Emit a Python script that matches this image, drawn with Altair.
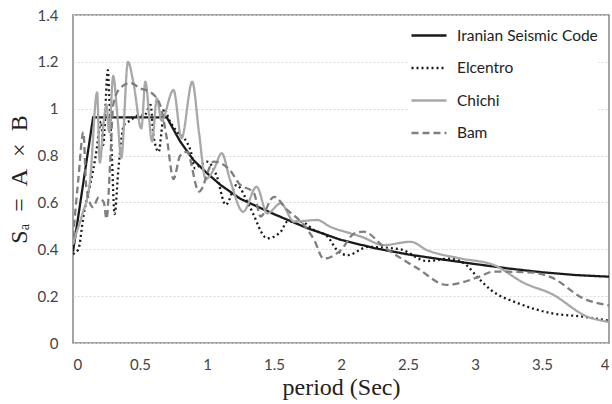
import altair as alt
import pandas as pd

# ---- data ----
series_names = ["Iranian Seismic Code", "Elcentro", "Chichi", "Bam"]

code_T = [0, 0.15, 0.7, 0.8, 0.9, 1.0, 1.1, 1.25, 1.5, 1.75, 2.0, 2.25, 2.5, 2.75, 3.0, 3.25, 3.5, 3.75, 4.0]
code_Sa = [0.39, 0.963, 0.963, 0.86, 0.78, 0.725, 0.675, 0.615, 0.55, 0.49, 0.44, 0.405, 0.378, 0.357, 0.337, 0.318, 0.302, 0.29, 0.283]

elc_T = [0, 0.04, 0.08, 0.13, 0.17, 0.21, 0.225, 0.26, 0.27, 0.29, 0.31, 0.34, 0.38, 0.43, 0.48, 0.53, 0.58, 0.60,
         0.64, 0.66, 0.68, 0.72, 0.78, 0.83, 0.88, 0.91, 0.95, 1.0, 1.07, 1.14, 1.22, 1.32, 1.45, 1.55, 1.6, 1.7,
         1.8, 1.9, 1.97, 2.05, 2.2, 2.44, 2.64, 2.82, 2.94, 3.02, 3.12, 3.32, 3.57, 3.81, 4.0]
elc_Sa = [0.38, 0.40, 0.55, 0.68, 0.80, 0.945, 0.845, 1.165, 1.06, 0.80, 0.55, 0.75, 0.93, 0.95, 0.97, 0.97, 1.016, 0.888,
          0.816, 0.90, 1.0, 0.95, 0.90, 0.874, 0.816, 0.745, 0.76, 0.774, 0.717, 0.59, 0.674, 0.58, 0.447, 0.475, 0.518, 0.518,
          0.482, 0.454, 0.397, 0.375, 0.41, 0.40, 0.35, 0.36, 0.33, 0.28, 0.226, 0.17, 0.127, 0.112, 0.095]

chi_T = [0, 0.02, 0.07, 0.127, 0.18, 0.2, 0.23, 0.25, 0.27, 0.30, 0.33, 0.36, 0.41, 0.45, 0.51, 0.54, 0.59, 0.626,
         0.66, 0.75, 0.81, 0.89, 0.94, 0.99, 1.05, 1.11, 1.17, 1.27, 1.37, 1.45, 1.55, 1.65, 1.82, 1.92, 2.07, 2.15,
         2.32, 2.52, 2.64, 2.89, 3.14, 3.37, 3.57, 3.84, 4.0]
chi_Sa = [0.42, 0.46, 0.55, 0.69, 1.07, 0.77, 0.95, 1.016, 0.90, 1.14, 0.98, 0.79, 1.2, 1.115, 0.916, 1.115, 0.86, 1.044,
          0.95, 1.08, 0.874, 1.115, 0.90, 0.70, 0.74, 0.81, 0.70, 0.56, 0.667, 0.553, 0.596, 0.518, 0.525, 0.496, 0.468, 0.454,
          0.418, 0.432, 0.397, 0.361, 0.333, 0.255, 0.21, 0.112, 0.09]

bam_T = [0, 0.04, 0.077, 0.10, 0.15, 0.19, 0.23, 0.25, 0.28, 0.30, 0.35, 0.43, 0.5, 0.58, 0.65, 0.70, 0.75, 0.80,
         0.85, 0.94, 1.05, 1.17, 1.24, 1.35, 1.40, 1.50, 1.60, 1.70, 1.80, 1.87, 2.0, 2.10, 2.17, 2.32, 2.57, 2.79,
         3.02, 3.14, 3.44, 3.57, 3.81, 4.0]
bam_Sa = [0.45, 0.70, 0.90, 0.66, 0.58, 0.62, 0.60, 0.53, 0.80, 1.016, 1.087, 1.11, 1.087, 1.07, 1.016, 0.874, 0.70, 0.80,
          0.816, 0.646, 0.774, 0.738, 0.68, 0.64, 0.54, 0.624, 0.567, 0.518, 0.44, 0.36, 0.397, 0.468, 0.475, 0.41, 0.319, 0.248,
          0.28, 0.305, 0.30, 0.28, 0.19, 0.16]

x_ticks = [0, 0.5, 1, 1.5, 2, 2.5, 3, 3.5, 4]
y_ticks = [0, 0.2, 0.4, 0.6, 0.8, 1.0, 1.2, 1.4]

# ---- build tables ----
def frame(name, T, S):
    return pd.DataFrame({"T": T, "Sa": S, "series": name, "idx": range(len(T))})

code_df = frame(series_names[0], code_T, code_Sa)
rec_df = pd.concat([
    frame(series_names[1], elc_T, elc_Sa),
    frame(series_names[2], chi_T, chi_Sa),
    frame(series_names[3], bam_T, bam_Sa),
])

colors = ["#1a1a1a", "#1a1a1a", "#a8a8a8", "#7f7f7f"]
dashes = [[1, 0], [2, 3], [1, 0], [7, 4]]
frame_color = "#868686"

x_scale = alt.Scale(domain=[0, 4], nice=False)
x_enc = alt.X("T:Q", scale=x_scale,
              axis=alt.Axis(values=x_ticks, format="~g", title="period (Sec)", grid=False,
                            ticks=False, labelPadding=14, titlePadding=3))
y_enc = alt.Y("Sa:Q", scale=alt.Scale(domain=[0, 1.4], nice=False),
              axis=alt.Axis(values=y_ticks, format="~g",
                            title="Sₐ\u2002=\u2002A\u2002×\u2002B", grid=True,
                            ticks=False, labelPadding=15, titlePadding=6))
color_enc = alt.Color("series:N",
                      scale=alt.Scale(domain=series_names, range=colors),
                      legend=alt.Legend(orient="none", legendX=337, legendY=1.5, title=None,
                                        symbolType="stroke", symbolSize=1225, symbolStrokeWidth=2.5,
                                        labelFont="Lato", labelFontSize=15.5, labelColor="#222222",
                                        fillColor="white", padding=0, rowPadding=4.5, labelOffset=9))
dash_enc = alt.StrokeDash("series:N", scale=alt.Scale(domain=series_names, range=dashes), legend=None)

code_line = alt.Chart(code_df).mark_line(strokeWidth=2.3, clip=True).encode(
    x=x_enc, y=y_enc, color=color_enc, strokeDash=dash_enc, order="idx:Q")
rec_lines = alt.Chart(rec_df).mark_line(strokeWidth=2.3, interpolate="monotone", clip=True).encode(
    x=x_enc, y=y_enc, color=color_enc, strokeDash=dash_enc, order="idx:Q")

chart = alt.layer(code_line, rec_lines).properties(
    width=536, height=328,
    autosize=alt.AutoSizeParams(type="none"),
    padding={"left": 73, "top": 15, "right": 3, "bottom": 61},
).configure_view(
    stroke=frame_color, strokeWidth=1.5
).configure_axis(
    labelFont="Lato", labelFontSize=15, labelColor="#444444",
    titleFont="Liberation Serif", titleFontSize=24, titleFontWeight="normal", titleColor="#222222",
    domain=False, gridColor="#d9d9d9", gridDash=[2, 2], gridWidth=1
).configure_axisY(
    labelAlign="right"
)

chart.save("out.html", embed_options={"renderer": "svg", "actions": False})
